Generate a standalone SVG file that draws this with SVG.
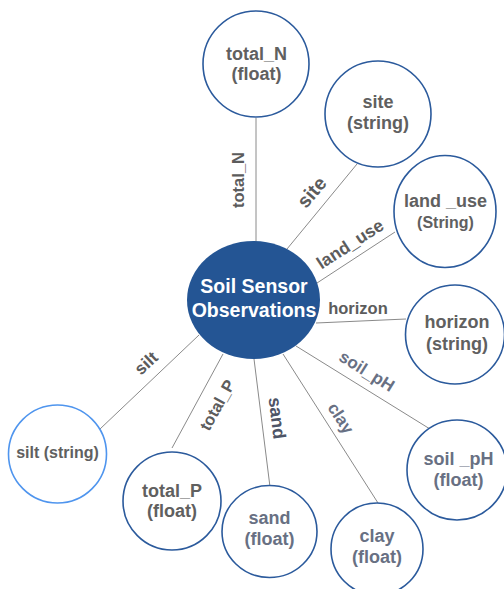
<svg xmlns="http://www.w3.org/2000/svg" width="504" height="589" viewBox="0 0 504 589">
  <style>
    .node { fill: #ffffff; stroke: #2b5a9c; stroke-width: 1.6; }
    .node-light { fill: #ffffff; stroke: #4f95ee; stroke-width: 1.6; }
    .hub { fill: #245594; stroke: none; }
    .edge { stroke: #8a8a8a; stroke-width: 1; fill: none; }
    text { font-family: "Liberation Sans", Arial, Helvetica, sans-serif; font-weight: bold; text-anchor: middle; }
    .t { font-size: 18px; fill: #606060; }
    .t-small { font-size: 16px; fill: #606060; }
    .t-slate { font-size: 18px; fill: #687083; }
    .hub-t { font-size: 19.5px; fill: #ffffff; }
    .lbl { font-size: 16.5px; fill: #5c5c5c; }
    .lbl-slate { font-size: 17px; fill: #687083; }
    .lbl-dark { font-size: 18px; fill: #4e5466; }
  </style>

  <!-- connectors from the hub to each attribute -->
  <g id="connectors">
    <line class="edge" x1="256" y1="118" x2="256" y2="242"/>
    <line class="edge" x1="357" y1="164" x2="287" y2="249"/>
    <line class="edge" x1="395" y1="232" x2="317" y2="283"/>
    <line class="edge" x1="406" y1="319" x2="316" y2="323"/>
    <line class="edge" x1="430" y1="429" x2="296" y2="346"/>
    <line class="edge" x1="378" y1="503" x2="283" y2="354"/>
    <line class="edge" x1="270" y1="487" x2="254" y2="359"/>
    <line class="edge" x1="172" y1="448" x2="223" y2="354"/>
    <line class="edge" x1="100" y1="429" x2="199" y2="335"/>

    <!-- edge labels -->
    <text class="lbl" transform="translate(237.5,180) rotate(-90)" y="6">total_N</text>
    <text class="lbl" style="font-size:19.5px" transform="translate(311.5,192) rotate(-50)" y="7">site</text>
    <text class="lbl" style="font-size:17.5px" transform="translate(350,244) rotate(-33)" y="6">land_use</text>
    <text class="lbl" x="358" y="314">horizon</text>
    <text class="lbl-slate" transform="translate(367,371) rotate(32)" y="6">soil_pH</text>
    <text class="lbl-slate" transform="translate(341,418) rotate(57)" y="6">clay</text>
    <text class="lbl-dark" transform="translate(277,418) rotate(83)" y="6">sand</text>
    <text class="lbl" transform="translate(217,405) rotate(-61)" y="6">total_P</text>
    <text class="lbl" style="font-size:17px" transform="translate(146,363) rotate(-43)" y="6">silt</text>
  </g>

  <g id="hub">
    <ellipse class="hub" cx="253.5" cy="300" rx="66.5" ry="59"/>
    <text class="hub-t" x="254" y="293">Soil Sensor</text>
    <text class="hub-t" x="254" y="317">Observations</text>
  </g>

  <g id="node-total-n">
    <circle class="node" cx="256" cy="64" r="53"/>
    <text class="t" x="256.5" y="60">total_N</text>
    <text class="t" x="256.5" y="80">(float)</text>
  </g>

  <g id="node-site">
    <circle class="node" cx="378" cy="114" r="53"/>
    <text class="t" x="378" y="108">site</text>
    <text class="t" x="378" y="129">(string)</text>
  </g>

  <g id="node-land-use">
    <ellipse class="node" cx="445" cy="211.5" rx="51" ry="56"/>
    <text class="t" x="445.5" y="207">land _use</text>
    <text class="t-small" x="445.5" y="228">(String)</text>
  </g>

  <g id="node-horizon">
    <circle class="node" cx="455" cy="334.5" r="49.5"/>
    <text class="t" x="457" y="328">horizon</text>
    <text class="t" x="457" y="350">(string)</text>
  </g>

  <g id="node-soil-ph">
    <circle class="node" cx="457" cy="470" r="50"/>
    <text class="t-slate" x="458.5" y="465">soil _pH</text>
    <text class="t-slate" x="458.5" y="486">(float)</text>
  </g>

  <g id="node-clay">
    <circle class="node" cx="377" cy="549" r="46"/>
    <text class="t-slate" x="377" y="542">clay</text>
    <text class="t-slate" x="377" y="563">(float)</text>
  </g>

  <g id="node-sand">
    <ellipse class="node" cx="269.5" cy="531.5" rx="47.5" ry="46"/>
    <text class="t-slate" x="269.5" y="524">sand</text>
    <text class="t-slate" x="269.5" y="545">(float)</text>
  </g>

  <g id="node-total-p">
    <circle class="node" cx="172" cy="501" r="49"/>
    <text class="t" x="172" y="497">total_P</text>
    <text class="t" x="172" y="517">(float)</text>
  </g>

  <g id="node-silt">
    <circle class="node-light" cx="57.5" cy="454" r="49"/>
    <text class="t-small" x="57.5" y="458">silt (string)</text>
  </g>
</svg>
